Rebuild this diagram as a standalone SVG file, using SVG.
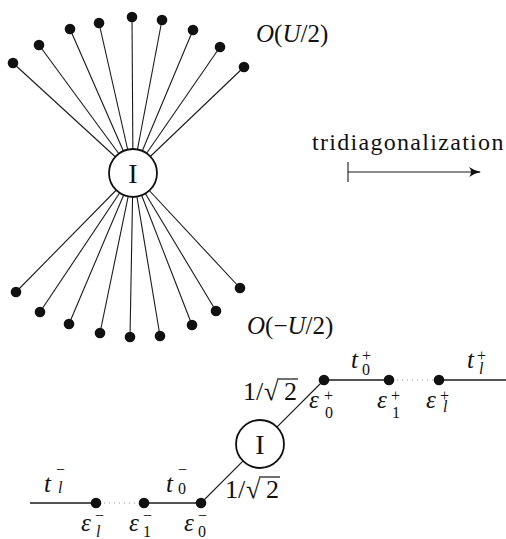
<svg xmlns="http://www.w3.org/2000/svg" width="506" height="539" viewBox="0 0 506 539">
<defs>
<marker id="arr" viewBox="0 0 12 10" refX="11" refY="5" markerWidth="12" markerHeight="10" markerUnits="userSpaceOnUse" orient="auto">
<path d="M0,0 Q6,4 12,5 Q6,6 0,10 Q4,5 0,0 Z" fill="#111"/>
</marker>
</defs>
<rect width="506" height="539" fill="#fff"/>

<g id="connectors" stroke="#1a1a1a" fill="none">
<g stroke-width="1.1">
<line x1="133" y1="173" x2="13" y2="63"/>
<line x1="133" y1="173" x2="39" y2="45"/>
<line x1="133" y1="173" x2="70" y2="29"/>
<line x1="133" y1="173" x2="99" y2="23"/>
<line x1="133" y1="173" x2="132" y2="17"/>
<line x1="133" y1="173" x2="162" y2="20"/>
<line x1="133" y1="173" x2="193" y2="30"/>
<line x1="133" y1="173" x2="220" y2="47"/>
<line x1="133" y1="173" x2="244" y2="67"/>
<line x1="133" y1="173" x2="16" y2="292"/>
<line x1="133" y1="173" x2="40" y2="312"/>
<line x1="133" y1="173" x2="69" y2="324"/>
<line x1="133" y1="173" x2="100" y2="333"/>
<line x1="133" y1="173" x2="130" y2="337"/>
<line x1="133" y1="173" x2="160" y2="336"/>
<line x1="133" y1="173" x2="192" y2="325"/>
<line x1="133" y1="173" x2="216" y2="311"/>
<line x1="133" y1="173" x2="240" y2="288"/>
<line x1="201" y1="503" x2="324" y2="380"/>
<line x1="348" y1="172" x2="480" y2="172" marker-end="url(#arr)"/>
<line x1="348" y1="162" x2="348" y2="182"/>
</g>
<g stroke-width="1.6">
<line x1="324" y1="380" x2="389" y2="380"/>
<line x1="439" y1="380" x2="506" y2="380"/>
<line x1="30" y1="503" x2="96" y2="503"/>
<line x1="144" y1="503" x2="201" y2="503"/>
</g>
<g stroke="#999" stroke-width="1.2" stroke-dasharray="1 4">
<line x1="392" y1="380" x2="437" y2="380"/>
<line x1="99" y1="503" x2="142" y2="503"/>
</g>
</g>

<g font-family="Liberation Serif" fill="#111">
<g id="hub-top"><circle cx="133" cy="173" r="24" fill="#fff" stroke="#111" stroke-width="1.8"/><text font-size="28" x="133" y="183" text-anchor="middle">I</text></g>
<g id="hub-bottom"><circle cx="260" cy="444" r="24" fill="#fff" stroke="#111" stroke-width="1.8"/><text font-size="28" x="260" y="454" text-anchor="middle">I</text></g>

<g id="top-nodes">
<circle cx="13" cy="63" r="5.3"/>
<circle cx="39" cy="45" r="5.3"/>
<circle cx="70" cy="29" r="5.3"/>
<circle cx="99" cy="23" r="5.3"/>
<circle cx="132" cy="17" r="5.3"/>
<circle cx="162" cy="20" r="5.3"/>
<circle cx="193" cy="30" r="5.3"/>
<circle cx="220" cy="47" r="5.3"/>
<circle cx="244" cy="67" r="5.3"/>
</g>
<g id="bottom-nodes">
<circle cx="16" cy="292" r="5.3"/>
<circle cx="40" cy="312" r="5.3"/>
<circle cx="69" cy="324" r="5.3"/>
<circle cx="100" cy="333" r="5.3"/>
<circle cx="130" cy="337" r="5.3"/>
<circle cx="160" cy="336" r="5.3"/>
<circle cx="192" cy="325" r="5.3"/>
<circle cx="216" cy="311" r="5.3"/>
<circle cx="240" cy="288" r="5.3"/>
</g>
<g id="chain-nodes">
<circle cx="324" cy="380" r="5.3"/>
<circle cx="389" cy="380" r="5.3"/>
<circle cx="439" cy="380" r="5.3"/>
<circle cx="96" cy="503" r="5.3"/>
<circle cx="144" cy="503" r="5.3"/>
<circle cx="201" cy="503" r="5.3"/>
</g>

<g id="labels">
<text font-size="25" x="256" y="42"><tspan font-style="italic">O</tspan>(<tspan font-style="italic">U</tspan>/2)</text>
<text font-size="25" x="247" y="334"><tspan font-style="italic">O</tspan>(−<tspan font-style="italic">U</tspan>/2)</text>
<text font-size="24" x="312" y="150" letter-spacing="1.3">tridiagonalization</text>

<text font-size="25" font-style="italic" x="351" y="368">t</text><text font-size="16" x="362" y="361">+</text><text font-size="16" x="362" y="375">0</text>
<text font-size="25" font-style="italic" x="467" y="368">t</text><text font-size="16" x="477" y="361">+</text><text font-size="16" font-style="italic" x="479" y="374">l</text>
<text font-size="25" font-style="italic" x="309" y="408">ε</text><text font-size="16" x="324" y="401">+</text><text font-size="16" x="325" y="418">0</text>
<text font-size="25" font-style="italic" x="377" y="408">ε</text><text font-size="16" x="391" y="401">+</text><text font-size="16" x="392" y="418">1</text>
<text font-size="25" font-style="italic" x="426" y="408">ε</text><text font-size="16" x="440" y="401">+</text><text font-size="16" font-style="italic" x="443" y="412">l</text>

<text font-size="25" font-style="italic" x="44" y="492">t</text><text font-size="16" x="56" y="475">−</text><text font-size="16" font-style="italic" x="58" y="493">l</text>
<text font-size="25" font-style="italic" x="166" y="492">t</text><text font-size="16" x="178" y="475">−</text><text font-size="16" x="178" y="494">0</text>
<text font-size="25" font-style="italic" x="81" y="531">ε</text><text font-size="16" x="95" y="521">−</text><text font-size="16" font-style="italic" x="96" y="537">l</text>
<text font-size="25" font-style="italic" x="129" y="531">ε</text><text font-size="16" x="143" y="521">−</text><text font-size="16" x="143" y="537">1</text>
<text font-size="25" font-style="italic" x="184" y="531">ε</text><text font-size="16" x="198" y="521">−</text><text font-size="16" x="198" y="537">0</text>

<text font-size="26" x="243" y="400">1/</text><text font-size="26" x="264" y="400">√</text><text font-size="26" x="284" y="400">2</text>
<text font-size="26" x="225" y="498">1/</text><text font-size="26" x="246" y="498">√</text><text font-size="26" x="266" y="498">2</text>
</g>
<g stroke="#111" stroke-width="1.2">
<line x1="277" y1="379" x2="298" y2="379"/>
<line x1="259" y1="477" x2="280" y2="477"/>
</g>
</g>
</svg>
